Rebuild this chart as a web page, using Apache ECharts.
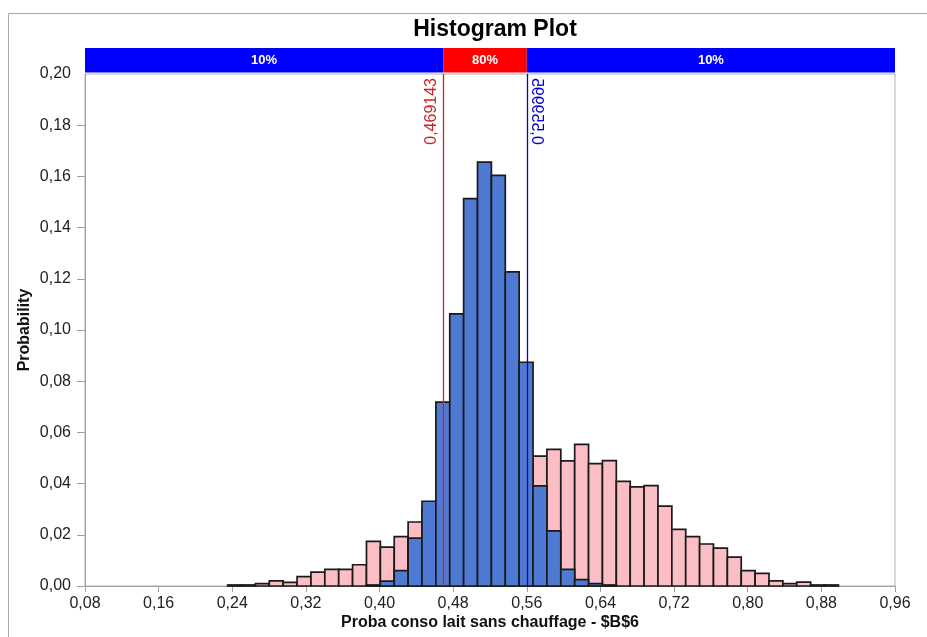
<!DOCTYPE html>
<html><head><meta charset="utf-8">
<script src="https://cdn.jsdelivr.net/npm/echarts@6/dist/echarts.min.js"></script>
<style>html,body{margin:0;padding:0;background:#fff}#c{width:927px;height:637px}</style>
</head><body><div id="c"></div>
<script>
// ---- data ----
const binStart = 0.2350;
const binWidth = 0.01508;
const pinkValues = [
  0.0004, 0.0004, 0.0009, 0.0020, 0.0014, 0.0037, 0.0054, 0.0065, 0.0065, 0.0083,
  0.0174, 0.0152, 0.0193, 0.0250, 0.0300, 0.0330, 0.0360, 0.0400, 0.0430, 0.0460,
  0.0490, 0.0510, 0.0507, 0.0534, 0.0489, 0.0553, 0.0478, 0.0490, 0.0409, 0.0387,
  0.0392, 0.0312, 0.0221, 0.0193, 0.0164, 0.0148, 0.0113, 0.0060, 0.0049, 0.0020,
  0.0009, 0.0015, 0.0004, 0.0004
];
const blueValues = [
  0, 0, 0, 0, 0, 0, 0, 0, 0, 0,
  0.0004, 0.0019, 0.0060, 0.0187, 0.0331, 0.0718, 0.1063, 0.1513, 0.1656, 0.1604,
  0.1227, 0.0874, 0.0391, 0.0215, 0.0065, 0.0025, 0.0009, 0.0004, 0, 0,
  0, 0, 0, 0, 0, 0, 0, 0, 0, 0,
  0, 0, 0, 0
];
const quantileValues = [0.469143, 0.559995];
const quantileLabels = ['0,469143', '0,559995'];
const bandEdges = [0.08, 0.469143, 0.559995, 0.96];
const bandLabels = ['10%', '80%', '10%'];
const xMin = 0.08, xMax = 0.96, xStep = 0.08;
const yMin = 0, yMax = 0.20, yStep = 0.02;
const yTickMarks = [0, 0.02, 0.04, 0.06, 0.08, 0.10, 0.12, 0.14, 0.16, 0.18];
const titleText = 'Histogram Plot';
const xName = 'Proba conso lait sans chauffage - $B$6';
const yName = 'Probability';

// ---- build ----
const FONT = 'Arial, "Liberation Sans", sans-serif';
const fmt = v => v.toFixed(2).replace('.', ',');
const toBins = vals => vals.map((v, i) => [binStart + i * binWidth, binStart + (i + 1) * binWidth, v]);

function barRender(fill) {
  return function (params, api) {
    const h = api.value(2);
    if (!h) return null;
    const p0 = api.coord([api.value(0), 0]);
    const p1 = api.coord([api.value(1), h]);
    return {
      type: 'rect',
      shape: { x: p0[0], y: p1[1], width: p1[0] - p0[0], height: p0[1] - p1[1] },
      style: { fill: fill, stroke: '#1a1a1a', lineWidth: 1.7 }
    };
  };
}

const chart = echarts.init(document.getElementById('c'), null, { renderer: 'canvas' });
chart.setOption({
  animation: false,
  backgroundColor: '#fff',
  graphic: [{
    type: 'rect', silent: true, z: -10,
    shape: { x: 8.5, y: 13.5, width: 940, height: 650 },
    style: { fill: null, stroke: '#a8a8a8', lineWidth: 1 }
  }],
  title: {
    text: titleText, left: 490, top: 13, textAlign: 'center',
    textStyle: { fontFamily: FONT, fontSize: 23, fontWeight: 'bold', color: '#000' }
  },
  grid: {
    left: 85, right: 32, top: 74, bottom: 51,
    show: true, borderColor: '#b0b0b0', borderWidth: 1, backgroundColor: 'transparent'
  },
  xAxis: {
    type: 'value', min: xMin, max: xMax, interval: xStep,
    name: xName, nameLocation: 'middle', nameGap: 29, nameMoveOverlap: false,
    nameTextStyle: { fontFamily: FONT, fontSize: 16, fontWeight: 'bold', color: '#111' },
    axisLine: { show: true, onZero: false, lineStyle: { color: '#a0a0a0', width: 1 } },
    axisTick: { show: true, length: 6, lineStyle: { color: '#a0a0a0' } },
    axisLabel: { formatter: fmt, margin: 10, fontFamily: FONT, fontSize: 16, color: '#222' },
    splitLine: { show: false }
  },
  yAxis: {
    type: 'value', min: yMin, max: yMax, interval: yStep,
    name: yName, nameLocation: 'middle', nameGap: 52, nameMoveOverlap: false,
    nameTextStyle: { fontFamily: FONT, fontSize: 16, fontWeight: 'bold', color: '#111' },
    axisLine: { show: true, lineStyle: { color: '#a0a0a0', width: 1 } },
    axisTick: { show: true, length: 8, lineStyle: { color: '#a0a0a0' }, customValues: yTickMarks },
    axisLabel: { formatter: fmt, margin: 14, fontFamily: FONT, fontSize: 16, color: '#222' },
    splitLine: { show: false }
  },
  series: [
    {
      type: 'custom', name: 'pink', data: toBins(pinkValues),
      encode: { x: [0, 1], y: 2 }, renderItem: barRender('#fbbec4'), z: 2
    },
    {
      type: 'custom', name: 'blue', data: toBins(blueValues),
      encode: { x: [0, 1], y: 2 }, renderItem: barRender('#4f7ad4'), z: 3
    },
    {
      type: 'custom', name: 'quantiles', data: quantileValues.map(v => [v]),
      encode: { x: 0 }, z: 4, clip: false,
      renderItem: function (params, api) {
        const i = params.dataIndex;
        const v = api.value(0);
        const pb = api.coord([v, yMin]);
        const pt = api.coord([v, yMax]);
        const color = i === 0 ? '#cc2424' : '#0000d0';
        const x = Math.round(pb[0]) + 0.5;
        const txt = i === 0
          ? { type: 'text', x: x - 4, y: pt[1] + 4, rotation: Math.PI / 2,
              style: { text: quantileLabels[i], fill: color, font: '16px ' + FONT, align: 'right', verticalAlign: 'bottom' } }
          : { type: 'text', x: x + 1, y: pt[1] + 4, rotation: Math.PI / 2, scaleY: -1,
              style: { text: quantileLabels[i], fill: color, font: '16px ' + FONT, align: 'right', verticalAlign: 'bottom' } };
        return {
          type: 'group',
          children: [
            { type: 'line', shape: { x1: x, y1: pb[1], x2: x, y2: pt[1] }, style: { stroke: color, lineWidth: 1.3 } },
            txt
          ]
        };
      }
    },
    {
      type: 'custom', name: 'band', data: bandLabels.map((l, i) => [bandEdges[i], bandEdges[i + 1]]),
      encode: { x: [0, 1] }, z: 5, clip: false,
      renderItem: function (params, api) {
        const i = params.dataIndex;
        const p0 = api.coord([api.value(0), yMax]);
        const p1 = api.coord([api.value(1), yMax]);
        const top = p0[1] - 26;
        const h = 24.5;
        return {
          type: 'group',
          children: [
            { type: 'rect', shape: { x: p0[0], y: top, width: p1[0] - p0[0], height: h },
              style: { fill: i === 1 ? '#ff0000' : '#0000ff' } },
            { type: 'text', x: (p0[0] + p1[0]) / 2, y: top + h / 2,
              style: { text: bandLabels[i], fill: '#fff', font: 'bold 13px ' + FONT, align: 'center', verticalAlign: 'middle' } }
          ]
        };
      }
    }
  ]
});
</script>
</body></html>
